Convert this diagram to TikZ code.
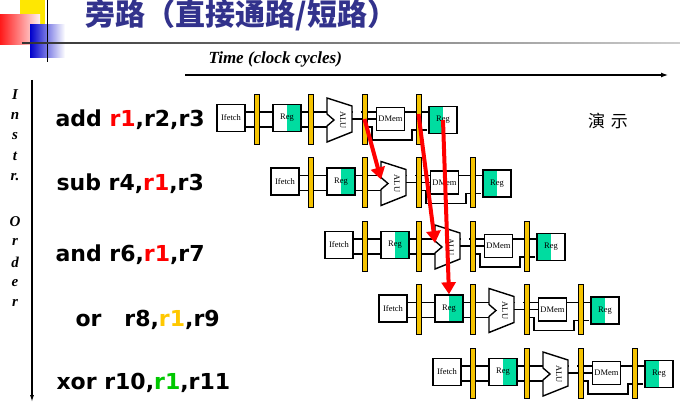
\documentclass[tikz,border=0pt]{standalone}
\usepackage{fontspec}
\setmainfont{Liberation Serif}
\newfontfamily\sansb{DejaVu Sans}
\newfontfamily\cjk{Noto Sans CJK SC}
\usetikzlibrary{arrows.meta}
\definecolor{ybar}{RGB}{245,195,0}
\definecolor{grn}{RGB}{0,220,160}
\definecolor{ttl}{RGB}{50,50,140}
\definecolor{orr}{RGB}{255,200,0}
\definecolor{grr}{RGB}{0,200,0}
\begin{document}
\begin{tikzpicture}[x=1pt,y=-1pt,
  box/.style={draw,line width=1.4pt,fill=white,minimum width=28pt,minimum height=27pt,inner sep=0pt,font=\fontsize{8.5}{9}\selectfont},
  rd/.style={box,path picture={\fill[grn] (path picture bounding box.north) rectangle (path picture bounding box.south east);}},
  wr/.style={box,path picture={\fill[grn] (path picture bounding box.north west) rectangle (path picture bounding box.south);}},
  dm/.style={box,minimum height=23pt},
  bar/.style={draw,line width=0.8pt,fill=ybar,minimum width=5pt,minimum height=50pt,inner sep=0pt},
  wire/.style={line width=1.4pt},
  ins/.style={anchor=west,font=\sansb\bfseries\fontsize{22}{23}\selectfont},
  fwd/.style={red,line width=4pt,-{Triangle[length=12pt,width=14pt]}},
  ax/.style={font=\bfseries\itshape\fontsize{15}{16}\selectfont}]
\useasboundingbox (0,0) rectangle (680,406);
% decorations
\fill[yellow!90!orange] (20,0) rectangle (45,25);
\shade[left color=red!90, right color=red!5] (0,15) rectangle (40,45);
\shade[left color=blue!80!black, right color=white] (30,25) rectangle (65,58);
\draw[line width=1pt] (47,0) -- (47,62);
\shade[left color=black!80, right color=black!20] (22,42.5) rectangle (680,44);
\node[anchor=west,text=ttl,font=\cjk\bfseries\fontsize{30}{31}\selectfont] (title) at (82,15) {旁路（直接通路/短路）};
\node[ax,anchor=west,font=\bfseries\itshape\fontsize{17}{18}\selectfont] (time) at (205,59) {Time (clock cycles)};
\coordinate (t0) at (185,75); \coordinate (t1) at (668,75);
\draw[line width=1.2pt,-{Latex[length=7pt,width=5pt]}] (t0) -- (t1);
\coordinate (o0) at (32,80); \coordinate (o1) at (32,402);
\draw[line width=1.2pt,-{Latex[length=7pt,width=4pt]}] (o0) -- (o1);
\foreach \l [count=\j] in {I,n,s,t,r.} \node[ax] (l\j) at (15,{95+20.5*(\j-1)}) {\l};
\foreach \l [count=\j] in {O,r,d,e,r} \node[ax] (m\j) at (15,{222+20.3*(\j-1)}) {\l};
\node[font=\cjk\fontsize{17}{18}\selectfont] (demo) at (608,121) {演\,\,示};
% instructions
\node[ins] (i0) at (52,120) {add \textcolor{red}{r1},r2,r3};
\node[ins] (i1) at (53,184) {sub r4,\textcolor{red}{r1},r3};
\node[ins] (i2) at (52,255) {and r6,\textcolor{red}{r1},r7};
\node[ins] (i3) at (72,320) {or\ \ \ r8,\textcolor{orr}{r1},r9};
\node[ins] (i4) at (53,383) {xor r10,\textcolor{grr}{r1},r11};
% pipelines
\foreach \k in {0,...,4}{
  \pgfmathsetmacro\x{217+54*\k}
  \pgfmathsetmacro\c{118+63.5*\k}
  \draw[wire] (\x,\c-6) -- ++(240,0);
  \draw[wire] (\x,\c+9) -- ++(125,0);
  \draw[wire] (\x+150,\c+9) -- (\x+155,\c+9) -- (\x+155,\c+22) -- (\x+195,\c+22) -- (\x+195,\c+12) -- (\x+210,\c+12);
  \node[box] (if\k) at (\x+14,\c) {Ifetch};
  \node[bar] (ba\k) at (\x+39.5,\c+1) {};
  \node[rd] (rr\k) at (\x+70,\c) {Reg};
  \node[bar] (bb\k) at (\x+93.5,\c+1) {};
  \fill[white] (\x+136,\c-12) rectangle (\x+144,\c+14);
  \draw[wire,fill=white] (\x+110,\c-20) -- (\x+135,\c-12) -- (\x+135,\c+14) -- (\x+110,\c+24) -- (\x+110,\c+8) -- (\x+117,\c+2) -- (\x+110,\c-4) -- cycle;
  \coordinate (alu\k) at (\x+110,\c-2);
  \node[rotate=-90,font=\fontsize{8.5}{9}\selectfont] (al\k) at (\x+126,\c+2) {ALU};
  \draw[wire] (\x+135,\c+1) -- (\x+160,\c+1);
  \node[bar] (bc\k) at (\x+147.5,\c+1) {};
  \node[dm] (dm\k) at (\x+173.5,\c+1) {DMem};
  \node[bar] (bd\k) at (\x+201.5,\c+1) {};
  \node[wr] (rw\k) at (\x+226,\c+2) {Reg};
}
\draw[fwd] (bc0.center) -- (alu1);
\draw[fwd] ([yshift=5pt]bd0.center) -- (alu2);
\draw[fwd] (rw0.center) -- (rr3.north);
\end{tikzpicture}
\end{document}
